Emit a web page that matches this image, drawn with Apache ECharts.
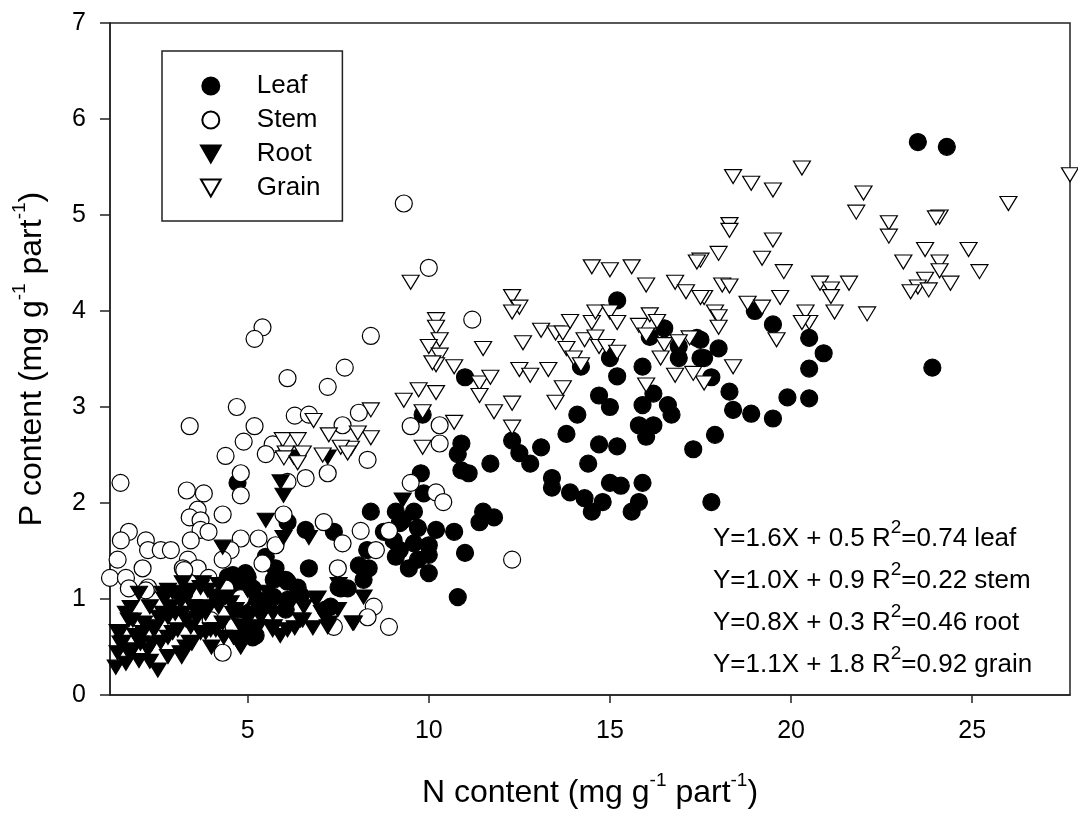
<!DOCTYPE html>
<html>
<head>
<meta charset="utf-8">
<script src="https://cdn.jsdelivr.net/npm/echarts@6/dist/echarts.min.js"></script>
<style>
  html, body { margin: 0; padding: 0; background: #fff; }
  #chart { width: 1078px; height: 824px; }
</style>
</head>
<body>
<div id="chart"></div>
<script>
// N vs P content per plant part
const leaf = [
  [23.5, 5.76], [24.3, 5.71], [23.9, 3.41],
  [20.5, 3.72], [20.9, 3.56], [20.5, 3.40], [20.5, 3.09], [19.9, 3.10], [19.5, 2.88], [18.9, 2.93],
  [18.4, 2.97], [18.3, 3.16], [18.0, 3.61], [19.5, 3.86], [19.0, 4.00], [17.9, 2.71], [17.8, 2.01],
  [17.5, 3.70], [17.6, 3.51], [17.8, 3.31],
  [15.2, 4.11], [16.5, 3.82], [16.1, 3.73], [17.4, 3.72], [16.9, 3.63], [16.9, 3.51], [17.5, 3.51],
  [15.0, 3.51], [14.2, 3.42], [15.9, 3.42], [15.2, 3.32], [11.0, 3.31], [16.2, 3.14], [14.7, 3.12],
  [15.0, 3.00], [15.9, 3.02], [16.6, 3.02], [14.1, 2.92], [16.7, 2.92], [15.8, 2.81], [16.2, 2.81],
  [16.0, 2.69], [17.3, 2.56], [9.83, 2.92], [13.8, 2.72], [14.7, 2.61], [15.2, 2.59], [12.3, 2.65],
  [12.5, 2.52], [12.8, 2.41], [13.1, 2.58], [10.9, 2.62], [10.8, 2.51], [10.9, 2.34], [11.1, 2.31],
  [11.7, 2.41], [14.4, 2.41], [13.4, 2.26], [13.4, 2.16], [13.9, 2.11], [14.3, 2.05], [14.8, 2.01],
  [14.5, 1.91], [15.0, 2.21], [15.3, 2.18], [15.9, 2.21], [15.8, 2.01], [15.6, 1.91], [11.5, 1.91],
  [11.8, 1.85], [11.4, 1.80], [9.78, 2.31], [9.86, 2.10], [9.59, 1.91], [9.28, 1.82], [9.70, 1.74],
  [10.2, 1.72], [10.7, 1.70], [9.59, 1.58], [10.0, 1.56], [9.20, 1.51], [10.0, 1.46], [11.0, 1.48],
  [9.70, 1.41], [9.45, 1.32], [10.0, 1.27], [10.8, 1.02],
  [8.40, 1.91], [9.09, 1.91], [9.20, 1.79], [8.76, 1.70], [9.03, 1.61], [8.30, 1.51], [9.09, 1.44],
  [8.07, 1.35], [8.34, 1.32], [8.20, 1.20], [7.57, 1.11], [7.76, 1.11], [7.38, 1.70], [6.60, 1.72],
  [6.10, 1.80], [5.77, 1.32], [6.69, 1.32], [5.50, 1.44], [6.10, 1.18], [6.38, 1.12], [5.72, 1.20],
  [4.45, 1.23], [4.81, 1.23], [5.00, 1.23], [4.61, 1.11], [5.14, 1.11], [5.28, 0.99], [5.72, 1.02],
  [6.10, 0.99], [6.46, 1.04], [6.05, 0.89], [4.67, 0.66], [4.72, 0.89], [5.08, 0.66], [5.14, 0.60],
  [4.17, 1.02], [3.70, 0.89], [3.25, 1.06], [4.72, 2.21], [7.29, 0.92],
  [4.59, 1.25], [4.94, 1.27], [6.05, 1.20], [7.51, 1.12], [7.15, 0.89], [5.22, 0.62], [5.50, 0.95],
  [4.90, 1.00]
];

const stem = [
  [9.31, 5.12], [10.0, 4.45], [5.41, 3.83], [5.19, 3.71], [8.40, 3.74], [7.68, 3.41], [6.10, 3.30],
  [7.21, 3.21], [4.70, 3.00], [3.40, 2.80], [5.19, 2.80], [4.89, 2.64], [6.30, 2.91], [6.69, 2.92],
  [7.62, 2.81], [8.07, 2.94], [9.50, 2.80], [10.3, 2.81], [5.69, 2.61], [5.50, 2.51], [4.39, 2.49],
  [8.31, 2.45], [10.3, 2.62], [11.2, 3.91], [9.50, 2.21], [10.2, 2.11], [10.4, 2.01], [12.3, 1.41],
  [1.49, 2.21], [4.81, 2.31], [4.81, 2.08], [3.32, 2.13], [3.79, 2.10], [7.21, 2.31], [6.60, 2.26],
  [6.10, 2.22], [3.62, 1.93], [3.40, 1.85], [3.70, 1.82], [4.31, 1.88], [3.70, 1.72], [3.92, 1.70],
  [3.43, 1.61], [5.99, 1.88], [7.10, 1.80], [8.12, 1.71], [8.90, 1.71], [8.54, 1.51], [7.62, 1.58],
  [5.77, 1.56], [5.30, 1.63], [4.81, 1.63], [4.53, 1.51], [4.31, 1.41], [1.72, 1.70], [1.50, 1.61],
  [1.41, 1.41], [1.20, 1.22], [1.64, 1.22], [1.72, 1.11], [2.19, 1.61], [2.25, 1.51], [2.60, 1.51],
  [2.88, 1.51], [3.35, 1.41], [3.62, 1.32], [3.21, 1.32], [2.10, 1.32], [3.92, 1.22], [2.25, 1.12],
  [4.39, 1.11], [4.81, 1.01], [5.41, 1.37], [7.49, 1.32], [8.48, 0.92], [8.31, 0.81], [8.90, 0.71],
  [7.38, 0.71], [4.31, 0.44], [3.98, 0.78], [4.61, 0.71], [2.19, 1.09], [3.25, 1.30]
];

const root = [
  [5.91, 2.22], [5.99, 2.08], [5.50, 1.82], [5.99, 1.64], [4.31, 1.54], [6.69, 1.64], [9.28, 2.03],
  [2.00, 1.06], [1.77, 0.91], [1.72, 0.78], [1.49, 0.66], [1.41, 0.44], [1.36, 0.29], [1.64, 0.33],
  [2.00, 0.36], [2.52, 0.26], [2.25, 0.47], [2.80, 0.40], [3.15, 0.44], [3.29, 0.50], [2.14, 0.75],
  [2.41, 0.68], [2.55, 0.81], [2.80, 1.09], [3.21, 1.17], [3.43, 1.09], [3.70, 1.12], [3.15, 0.97],
  [2.88, 0.92], [3.51, 0.92], [3.90, 0.92], [4.17, 0.99], [3.07, 0.68], [3.43, 0.71], [2.80, 0.60],
  [3.70, 0.65], [3.98, 0.68], [4.34, 0.60], [4.61, 0.60], [4.81, 0.50], [5.00, 0.78], [5.36, 0.81],
  [5.36, 0.92], [5.72, 0.71], [6.10, 0.68], [6.46, 0.78], [6.93, 1.01], [6.55, 0.92], [7.21, 0.71],
  [7.49, 0.89], [7.90, 0.75], [7.51, 1.15], [8.20, 1.02], [5.55, 1.07], [5.00, 1.09], [4.53, 0.96],
  [4.31, 0.75], [2.30, 0.92], [2.04, 0.54], [1.83, 0.47], [2.80, 0.81], [3.90, 1.09], [6.88, 0.99],
  [7.93, 0.75], [6.52, 0.78], [7.21, 2.48], [6.27, 2.48],
  [1.90, 0.62], [2.60, 0.55], [3.00, 0.85], [3.60, 0.80], [4.00, 0.50], [4.80, 0.72], [5.20, 0.70],
  [5.90, 0.62], [6.30, 0.70], [4.20, 1.15], [3.40, 0.55], [2.30, 0.35], [1.55, 0.55], [2.70, 1.00],
  [3.30, 0.78], [4.60, 0.85], [5.70, 0.85], [6.80, 0.70],
  [2.66, 1.06], [2.93, 1.07], [3.76, 1.17], [1.64, 0.85], [1.83, 0.78], [1.41, 0.66], [1.49, 0.54],
  [1.72, 0.44], [2.36, 0.54], [3.18, 0.40], [3.46, 0.54], [2.93, 0.65], [2.47, 0.71], [2.11, 0.65],
  [2.66, 0.85], [3.21, 0.85], [3.49, 0.92], [3.84, 0.85], [3.84, 0.65], [4.12, 0.68], [4.75, 0.54],
  [4.94, 0.68], [5.30, 0.71], [5.69, 0.68], [5.41, 0.85], [5.03, 0.85], [4.67, 0.89], [4.20, 0.92],
  [4.39, 1.02], [5.22, 0.99], [7.24, 0.75], [7.05, 0.86]
];

const grain = [
  [27.7, 5.42], [26.0, 5.12], [20.3, 5.49], [18.4, 5.40], [18.9, 5.33], [19.5, 5.26], [22.0, 5.23],
  [21.8, 5.03], [24.1, 4.98], [24.0, 4.97], [22.7, 4.92], [22.7, 4.78], [18.3, 4.90], [18.3, 4.84],
  [19.5, 4.74], [18.0, 4.60], [19.2, 4.55], [17.5, 4.53], [19.8, 4.41], [23.1, 4.51], [23.7, 4.64],
  [24.9, 4.64], [24.1, 4.51], [24.1, 4.42], [25.2, 4.41], [24.4, 4.29], [23.7, 4.33], [23.5, 4.25],
  [23.3, 4.20], [23.8, 4.22], [20.8, 4.29], [21.1, 4.23], [21.1, 4.15], [21.6, 4.29], [18.1, 4.27],
  [18.3, 4.26], [17.6, 4.14], [17.9, 3.99], [18.0, 3.94], [18.0, 3.83], [18.8, 4.08], [19.2, 4.04],
  [19.7, 4.14], [20.4, 3.99], [20.5, 3.88], [20.3, 3.88], [21.2, 3.99], [22.1, 3.97], [19.6, 3.70],
  [18.4, 3.42], [17.6, 3.25],
  [9.50, 4.30], [14.5, 4.46], [15.0, 4.43], [15.6, 4.46], [16.0, 4.27], [17.4, 4.51], [16.8, 4.30],
  [17.1, 4.20], [17.5, 4.14], [12.3, 4.15], [12.5, 4.04], [12.3, 3.99], [10.2, 3.91], [10.2, 3.83],
  [10.3, 3.70], [10.0, 3.63], [10.3, 3.54], [10.2, 3.44], [10.7, 3.42], [11.5, 3.61], [12.6, 3.67],
  [11.4, 3.25], [11.7, 3.31], [11.4, 3.12], [13.1, 3.80], [13.5, 3.77], [13.7, 3.77], [13.9, 3.89],
  [14.5, 3.88], [14.6, 3.99], [15.0, 3.99], [15.2, 3.88], [15.8, 3.85], [16.1, 3.96], [16.3, 3.89],
  [16.0, 3.75], [16.5, 3.65], [16.4, 3.51], [17.2, 3.72], [16.9, 3.68], [14.3, 3.70], [14.6, 3.73],
  [14.7, 3.63], [14.9, 3.63], [15.2, 3.57], [13.8, 3.61], [14.0, 3.51], [14.2, 3.44], [12.5, 3.39],
  [12.8, 3.33], [13.3, 3.39], [13.7, 3.20], [13.5, 3.05], [12.3, 3.04], [11.8, 2.95], [12.3, 2.79],
  [16.8, 3.33], [17.3, 3.35], [16.0, 3.23], [9.72, 3.18], [10.2, 3.15], [9.31, 3.07], [9.83, 2.95],
  [10.7, 2.84], [9.83, 2.58], [10.1, 3.46],
  [8.40, 2.97], [6.82, 2.86], [7.24, 2.71], [7.85, 2.57], [7.57, 2.58], [8.40, 2.68], [8.04, 2.73],
  [5.97, 2.66], [6.38, 2.66], [6.05, 2.52], [6.52, 2.52], [7.07, 2.50], [6.00, 2.47], [6.38, 2.42],
  [7.76, 2.52]
];

const xTicks = [5, 10, 15, 20, 25];
const fits = [
  ['1.6', '0.5', '0.74', 'leaf'],
  ['1.0', '0.9', '0.22', 'stem'],
  ['0.8', '0.3', '0.46', 'root'],
  ['1.1', '1.8', '0.92', 'grain']
];

const FONT = '"Liberation Sans", Arial, Helvetica, sans-serif';
const INK = '#222';
const TRI_DOWN = 'path://M0,0 L10,0 L5,8.66 Z';

const supRich = (size, line, supSize, supLine) => ({
  n: { fontSize: size, lineHeight: line, fontFamily: FONT, color: '#000' },
  s: { fontSize: supSize, lineHeight: supLine, fontFamily: FONT, color: '#000', verticalAlign: 'top' }
});

const fitText = fits
  .map(([a, b, r2, part]) => `{n|Y=${a}X + ${b} R}{s|2}{n|=${r2} ${part}}`)
  .join('\n');

const chart = echarts.init(document.getElementById('chart'));

const scatter = (name, data, symbol, size, filled) => ({
  name,
  type: 'scatter',
  data,
  symbol,
  symbolSize: size,
  itemStyle: {
    color: filled ? '#000' : '#fff',
    borderColor: '#000',
    borderWidth: 1.2,
    opacity: 1
  }
});

chart.setOption({
  animation: false,
  backgroundColor: '#fff',
  grid: {
    left: 110, right: 8, top: 23, bottom: 129,
    show: true, borderColor: INK, borderWidth: 1.5
  },
  legend: {
    orient: 'vertical',
    left: 162, top: 51,
    padding: [22, 22, 20, 38],
    itemWidth: 82, itemHeight: 17, itemGap: 8,
    borderColor: INK, borderWidth: 1.5,
    textStyle: { fontSize: 26, fontFamily: FONT, color: '#000' },
    data: ['Leaf', 'Stem', 'Root', 'Grain']
  },
  xAxis: {
    type: 'value',
    min: 1.2, max: 27.7,
    splitLine: { show: false },
    axisLine: { onZero: false, lineStyle: { color: INK, width: 1.5 } },
    axisTick: { customValues: xTicks, length: 8, lineStyle: { color: INK, width: 1.5 } },
    axisLabel: { customValues: xTicks, margin: 24, fontSize: 25, fontFamily: FONT, color: '#000' },
    name: '{n|N content (mg g}{s|-1}{n| part}{s|-1}{n|)}',
    nameLocation: 'middle',
    nameGap: 76,
    nameTextStyle: { rich: supRich(32, 44, 19, 18) }
  },
  yAxis: {
    type: 'value',
    min: 0, max: 7, interval: 1,
    splitLine: { show: false },
    axisLine: { onZero: false, lineStyle: { color: INK, width: 1.5 } },
    axisTick: { length: 10, lineStyle: { color: INK, width: 1.5 } },
    axisLabel: { margin: 24, fontSize: 25, fontFamily: FONT, color: '#000' },
    name: '{n|P content (mg g}{s|-1}{n| part}{s|-1}{n|)}',
    nameLocation: 'middle',
    nameGap: 56,
    nameTextStyle: { rich: supRich(32, 44, 19, 18) }
  },
  graphic: [{
    type: 'text',
    x: 713, y: 518,
    style: {
      text: fitText,
      rich: supRich(26, 42, 19, 14),
      verticalAlign: 'top',
      align: 'left'
    }
  }],
  series: [
    scatter('Leaf', leaf, 'circle', 17, true),
    scatter('Stem', stem, 'circle', 17, false),
    scatter('Root', root, TRI_DOWN, [17, 14], true),
    scatter('Grain', grain, TRI_DOWN, [17, 14], false)
  ]
});
</script>
</body>
</html>
